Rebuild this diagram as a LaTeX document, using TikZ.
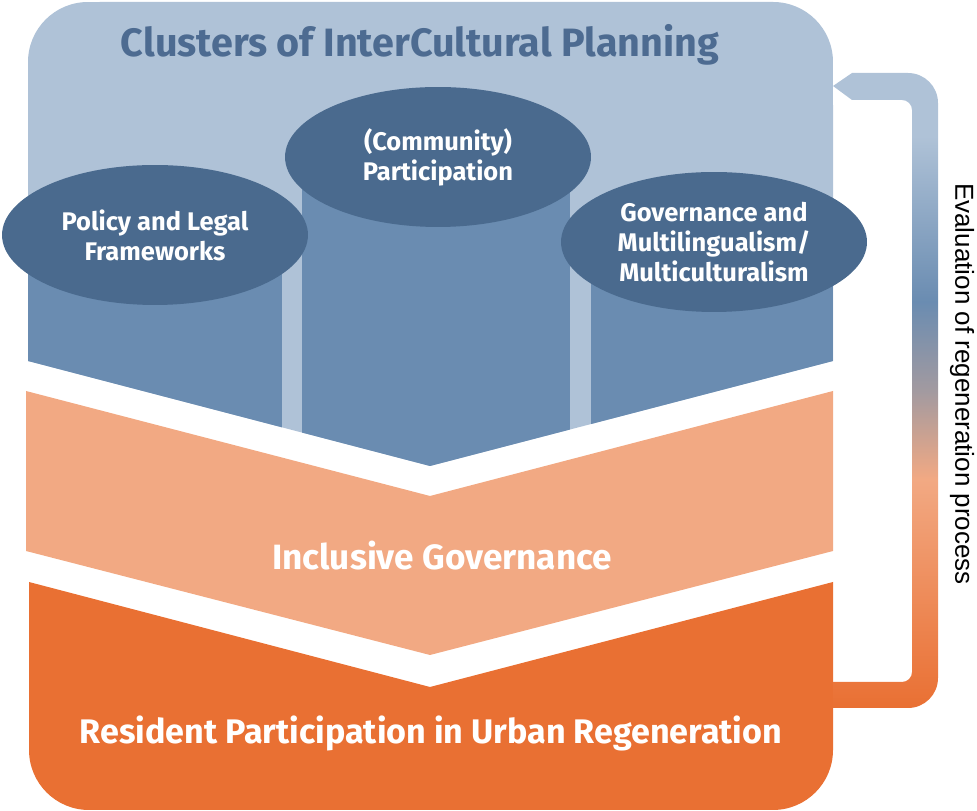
\documentclass[tikz,border=0pt]{standalone}
\usepackage{fontspec}
\setmainfont{Fira Sans}
\newfontfamily\evalfont{Liberation Sans}
\usetikzlibrary{shapes.geometric}

\definecolor{paleblue}{HTML}{AFC2D7}
\definecolor{midblue}{HTML}{6A8CB1}
\definecolor{darkblue}{HTML}{4A6A8E}
\definecolor{titleblue}{HTML}{4D6B91}
\definecolor{peach}{HTML}{F2A983}
\definecolor{rust}{HTML}{E97033}
\definecolor{rustlight}{HTML}{EC7F48}
\definecolor{taupe}{HTML}{A29AA0}

\pgfdeclareverticalshading{loopshade}{100bp}{color(0bp)=(rust); color(25bp)=(rust);
  color(30bp)=(rustlight); color(43bp)=(peach); color(50bp)=(taupe);
  color(57bp)=(midblue); color(70bp)=(paleblue); color(100bp)=(paleblue)}

\tikzset{
  pillar/.style={ellipse, fill=darkblue, text=white, align=center, inner sep=0pt,
    minimum width=6.12cm, minimum height=2.8cm,
    font=\bfseries\fontsize{14.5}{17}\selectfont},
  bandtext/.style={text=white, font=\bfseries\fontsize{20}{24}\selectfont},
}

\begin{document}
\begin{tikzpicture}[x=0.02cm,y=0.02cm]
\useasboundingbox (0,0) rectangle (977,811);
% clusters block
\fill [paleblue] (28,450) -- (28,749) arc (180:90:1.2cm) -- (773,809) arc (90:0:1.2cm)
  -- (833,450) -- (430,345) -- cycle;
\begin{scope}
\clip (28,450) -- (28,809) -- (833,809) -- (833,450) -- (430,345) -- cycle;
\fill [midblue] (28,200) rectangle (282,576);
\fill [midblue] (302,200) rectangle (570,654);
\fill [midblue] (591,200) rectangle (833,569);
\end{scope}
\node [text=titleblue, font=\bfseries\fontsize{22.5}{26}\selectfont] (title) at (420,766)
  {Clusters of InterCultural Planning};
\node [pillar] (policy) at (155,576) {Policy and Legal\\Frameworks};
\node [pillar] (community) at (438,654) {(Community)\\Participation};
\node [pillar] (multi) at (714,569) {Governance and\\Multilingualism/\\Multiculturalism};
% governance band
\fill [peach] (26,420) -- (430,315) -- (833,420) -- (833,260) -- (430,156) -- (26,260) -- cycle;
\node [bandtext] (inclusive) at (442,255) {Inclusive Governance};
% resident block
\fill [rust] (29,229) -- (430,124) -- (833,229) -- (833,61) arc (0:-90:1.2cm)
  -- (89,1) arc (270:180:1.2cm) -- cycle;
\node [bandtext, font=\bfseries\fontsize{19.4}{24}\selectfont] (resident) at (431,78)
  {Resident Participation in Urban Regeneration};
% evaluation loop
\shade [shading=loopshade] (833,103) -- (908,103) arc (270:360:0.6cm) -- (938,708)
  arc (0:90:0.6cm) -- (852,738) -- (833,725) -- (852,711) -- (902,711) arc (90:0:0.2cm)
  -- (912,139) arc (0:-90:0.2cm) -- (833,129) -- cycle;
\node [rotate=-90, font=\evalfont\fontsize{14.8}{17}\selectfont] (evaluation) at (962,427)
  {Evaluation of regeneration process};
\end{tikzpicture}
\end{document}
